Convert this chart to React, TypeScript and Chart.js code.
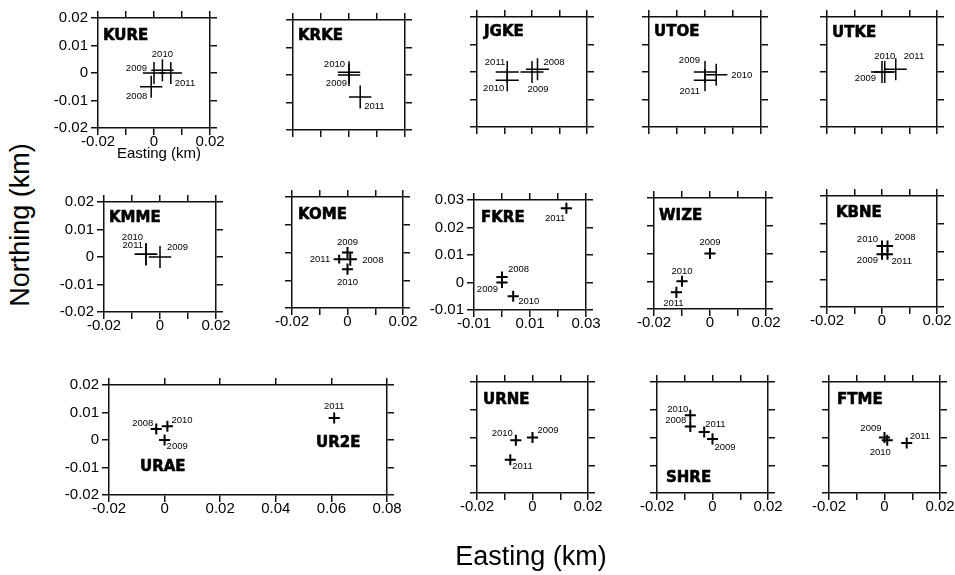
import React, { useEffect, useRef } from "react";
import { Chart, registerables } from "chart.js";

Chart.register(...registerables);

// ================= DATA (km) =================
const KURE_YEARS = ["2008", "2009", "2010", "2011"];
const KURE_EAST = [-0.001, 0.0, 0.003, 0.006];
const KURE_NORTH = [-0.005, 0.0, 0.001, 0.0];
const KURE_SIG_E = [0.004, 0.004, 0.004, 0.004];
const KURE_SIG_N = [0.004, 0.004, 0.004, 0.004];

const KRKE_YEARS = ["2009", "2010", "2011"];
const KRKE_EAST = [0.0, 0.0, 0.004];
const KRKE_NORTH = [0.0, 0.001, -0.008];
const KRKE_SIG_E = [0.004, 0.004, 0.004];
const KRKE_SIG_N = [0.004, 0.004, 0.0042];

const JGKE_YEARS = ["2008", "2009", "2010", "2011"];
const JGKE_EAST = [0.002, 0.0, -0.009, -0.009];
const JGKE_NORTH = [0.001, 0.0, -0.003, 0.0];
const JGKE_SIG_E = [0.0042, 0.0042, 0.0042, 0.0042];
const JGKE_SIG_N = [0.004, 0.004, 0.004, 0.004];

const UTOE_YEARS = ["2009", "2010", "2011"];
const UTOE_EAST = [0.0, 0.004, 0.0];
const UTOE_NORTH = [0.0, -0.001, -0.003];
const UTOE_SIG_E = [0.004, 0.004, 0.004];
const UTOE_SIG_N = [0.004, 0.004, 0.004];

const UTKE_YEARS = ["2009", "2010", "2011"];
const UTKE_EAST = [0.0, 0.001, 0.005];
const UTKE_NORTH = [0.0, 0.0, 0.001];
const UTKE_SIG_E = [0.004, 0.004, 0.004];
const UTKE_SIG_N = [0.004, 0.004, 0.004];

const KMME_YEARS = ["2009", "2010", "2011"];
const KMME_EAST = [0.0, -0.005, -0.005];
const KMME_NORTH = [0.0, 0.001, 0.001];
const KMME_SIG_E = [0.004, 0.004, 0.004];
const KMME_SIG_N = [0.004, 0.004, 0.004];

const KOME_YEARS = ["2008", "2009", "2010", "2011"];
const KOME_EAST = [0.001, 0.0, 0.0, -0.003];
const KOME_NORTH = [-0.0024, 0.0, -0.006, -0.0024];
const KOME_SIG_E = [0.0024, 0.002, 0.002, 0.002];
const KOME_SIG_N = [0.0024, 0.002, 0.002, 0.0016];

const FKRE_YEARS = ["2008", "2009", "2010", "2011"];
const FKRE_EAST = [0.0, 0.0, 0.004, 0.023];
const FKRE_NORTH = [0.002, 0.0, -0.005, 0.027];
const FKRE_SIG_E = [0.002, 0.002, 0.002, 0.002];
const FKRE_SIG_N = [0.002, 0.002, 0.002, 0.002];

const WIZE_YEARS = ["2009", "2010", "2011"];
const WIZE_EAST = [0.0, -0.01, -0.012];
const WIZE_NORTH = [0.0, -0.01, -0.014];
const WIZE_SIG_E = [0.002, 0.002, 0.002];
const WIZE_SIG_N = [0.002, 0.002, 0.002];

const KBNE_YEARS = ["2008", "2009", "2010", "2011"];
const KBNE_EAST = [0.002, 0.0, 0.0, 0.002];
const KBNE_NORTH = [0.002, -0.001, 0.002, -0.001];
const KBNE_SIG_E = [0.002, 0.002, 0.002, 0.002];
const KBNE_SIG_N = [0.002, 0.002, 0.002, 0.002];

const URAE_YEARS = ["2008", "2009", "2010"];
const URAE_EAST = [-0.003, 0.0, 0.001];
const URAE_NORTH = [0.004, 0.0, 0.005];
const URAE_SIG_E = [0.002, 0.002, 0.002];
const URAE_SIG_N = [0.002, 0.002, 0.002];

const UR2E_YEARS = ["2011"];
const UR2E_EAST = [0.061];
const UR2E_NORTH = [0.008];
const UR2E_SIG_E = [0.002];
const UR2E_SIG_N = [0.002];

const URNE_YEARS = ["2009", "2010", "2011"];
const URNE_EAST = [0.0, -0.006, -0.008];
const URNE_NORTH = [0.0, -0.001, -0.008];
const URNE_SIG_E = [0.002, 0.002, 0.002];
const URNE_SIG_N = [0.002, 0.002, 0.002];

const SHRE_YEARS = ["2008", "2009", "2010", "2011"];
const SHRE_EAST = [-0.008, 0.0, -0.008, -0.003];
const SHRE_NORTH = [0.004, -0.0005, 0.008, 0.002];
const SHRE_SIG_E = [0.002, 0.002, 0.002, 0.002];
const SHRE_SIG_N = [0.002, 0.002, 0.002, 0.002];

const FTME_YEARS = ["2009", "2010", "2011"];
const FTME_EAST = [0.0, 0.001, 0.008];
const FTME_NORTH = [0.0, -0.001, -0.002];
const FTME_SIG_E = [0.002, 0.002, 0.002];
const FTME_SIG_N = [0.002, 0.002, 0.002];

// ================= TICKS =================
const STD_TICKS = [-0.02, -0.01, 0, 0.01, 0.02];
const STD_X_LABELS = ["-0.02", "", "0", "", "0.02"];
const STD_Y_LABELS = ["-0.02", "-0.01", "0", "0.01", "0.02"];
const FKRE_TICKS = [-0.01, 0, 0.01, 0.02, 0.03];
const FKRE_X_LABELS = ["-0.01", "", "0.01", "", "0.03"];
const FKRE_Y_LABELS = ["-0.01", "0", "0.01", "0.02", "0.03"];
const URAE_X_TICKS = [-0.02, 0, 0.02, 0.04, 0.06, 0.08];
const URAE_X_LABELS = ["-0.02", "0", "0.02", "0.04", "0.06", "0.08"];

// ================= LAYOUT / STYLE =================
type Align = "left" | "right" | "center";
type LabelAt = [number, number, Align];
type Series = {
  years: string[];
  east: number[];
  north: number[];
  sigE: number[];
  sigN: number[];
  labelAt: LabelAt[];
};
type NameSpec = { text: string; dx: number; dy: number; from: "top" | "bottom" };
type PanelSpec = {
  id: string;
  area: [number, number, number, number];
  xRange: [number, number];
  yRange: [number, number];
  xTicks: number[];
  xLabels: string[] | null;
  yTicks: number[];
  yLabels: string[] | null;
  series: Series[];
  names: NameSpec[];
  lw: number;
};

const PAD_L = 62;
const PAD_R = 26;
const PAD_T = 12;
const PAD_B = 34;
const INK = "#111";
const FONT = '"Liberation Sans", Arial, sans-serif';
const NAME_FONT = 'bold 15px "DejaVu Sans", "Liberation Sans", sans-serif';
const YEAR_FONT = '9.5px "Liberation Sans", Arial, sans-serif';

const S = (
  years: string[], east: number[], north: number[], sigE: number[], sigN: number[], labelAt: LabelAt[]
): Series => ({ years, east, north, sigE, sigN, labelAt });

const PANELS: PanelSpec[] = [
  {
    id: "KURE", area: [98, 18, 210, 128], xRange: [-0.02, 0.02], yRange: [-0.02, 0.02],
    xTicks: STD_TICKS, xLabels: STD_X_LABELS, yTicks: STD_TICKS, yLabels: STD_Y_LABELS,
    series: [S(KURE_YEARS, KURE_EAST, KURE_NORTH, KURE_SIG_E, KURE_SIG_N,
      [[-4, 10, "right"], [-7, -5, "right"], [0, -16, "center"], [4, 10, "left"]])],
    names: [{ text: "KURE", dx: 5, dy: 18, from: "top" }], lw: 1.5,
  },
  {
    id: "KRKE", area: [293, 20, 405, 130], xRange: [-0.02, 0.02], yRange: [-0.02, 0.02],
    xTicks: STD_TICKS, xLabels: null, yTicks: STD_TICKS, yLabels: null,
    series: [S(KRKE_YEARS, KRKE_EAST, KRKE_NORTH, KRKE_SIG_E, KRKE_SIG_N,
      [[-2, 8, "right"], [-4, -8, "right"], [4, 9, "left"]])],
    names: [{ text: "KRKE", dx: 5, dy: 16, from: "top" }], lw: 1.5,
  },
  {
    id: "JGKE", area: [477, 17, 587, 127], xRange: [-0.02, 0.02], yRange: [-0.02, 0.02],
    xTicks: STD_TICKS, xLabels: null, yTicks: STD_TICKS, yLabels: null,
    series: [S(JGKE_YEARS, JGKE_EAST, JGKE_NORTH, JGKE_SIG_E, JGKE_SIG_N,
      [[6, -7, "left"], [6, 17, "center"], [-3, 8, "right"], [-2, -10, "right"]])],
    names: [{ text: "JGKE", dx: 7, dy: 15.5, from: "top" }], lw: 1.5,
  },
  {
    id: "UTOE", area: [649, 17, 761, 127], xRange: [-0.02, 0.02], yRange: [-0.02, 0.02],
    xTicks: STD_TICKS, xLabels: null, yTicks: STD_TICKS, yLabels: null,
    series: [S(UTOE_YEARS, UTOE_EAST, UTOE_NORTH, UTOE_SIG_E, UTOE_SIG_N,
      [[-5, -12, "right"], [15, 1, "left"], [-5, 11, "right"]])],
    names: [{ text: "UTOE", dx: 5, dy: 15.5, from: "top" }], lw: 1.5,
  },
  {
    id: "UTKE", area: [827, 17, 937, 127], xRange: [-0.02, 0.02], yRange: [-0.02, 0.02],
    xTicks: STD_TICKS, xLabels: null, yTicks: STD_TICKS, yLabels: null,
    series: [S(UTKE_YEARS, UTKE_EAST, UTKE_NORTH, UTKE_SIG_E, UTKE_SIG_N,
      [[-6, 6, "right"], [0, -16, "center"], [8, -13, "left"]])],
    names: [{ text: "UTKE", dx: 5, dy: 16.5, from: "top" }], lw: 1.5,
  },
  {
    id: "KMME", area: [104, 202, 216, 312], xRange: [-0.02, 0.02], yRange: [-0.02, 0.02],
    xTicks: STD_TICKS, xLabels: STD_X_LABELS, yTicks: STD_TICKS, yLabels: STD_Y_LABELS,
    series: [S(KMME_YEARS, KMME_EAST, KMME_NORTH, KMME_SIG_E, KMME_SIG_N,
      [[7, -10, "left"], [-3, -17, "right"], [-3, -9, "right"]])],
    names: [{ text: "KMME", dx: 5, dy: 16.5, from: "top" }], lw: 1.5,
  },
  {
    id: "KOME", area: [292, 197, 403, 308], xRange: [-0.02, 0.02], yRange: [-0.02, 0.02],
    xTicks: STD_TICKS, xLabels: STD_X_LABELS, yTicks: STD_TICKS, yLabels: null,
    series: [S(KOME_YEARS, KOME_EAST, KOME_NORTH, KOME_SIG_E, KOME_SIG_N,
      [[12, 1, "left"], [0, -10, "center"], [0, 13, "center"], [-9, 0, "right"]])],
    names: [{ text: "KOME", dx: 6, dy: 18, from: "top" }], lw: 2,
  },
  {
    id: "FKRE", area: [474, 200, 586, 310], xRange: [-0.01, 0.03], yRange: [-0.01, 0.03],
    xTicks: FKRE_TICKS, xLabels: FKRE_X_LABELS, yTicks: FKRE_TICKS, yLabels: FKRE_Y_LABELS,
    series: [S(FKRE_YEARS, FKRE_EAST, FKRE_NORTH, FKRE_SIG_E, FKRE_SIG_N,
      [[6, -8, "left"], [-4, 7, "right"], [5, 5, "left"], [-1, 10, "right"]])],
    names: [{ text: "FKRE", dx: 7, dy: 18, from: "top" }], lw: 2,
  },
  {
    id: "WIZE", area: [654, 198, 766, 309], xRange: [-0.02, 0.02], yRange: [-0.02, 0.02],
    xTicks: STD_TICKS, xLabels: STD_X_LABELS, yTicks: STD_TICKS, yLabels: null,
    series: [S(WIZE_YEARS, WIZE_EAST, WIZE_NORTH, WIZE_SIG_E, WIZE_SIG_N,
      [[0, -11, "center"], [0, -10, "center"], [-3, 11, "center"]])],
    names: [{ text: "WIZE", dx: 5, dy: 18, from: "top" }], lw: 2,
  },
  {
    id: "KBNE", area: [827, 196, 937, 307], xRange: [-0.02, 0.02], yRange: [-0.02, 0.02],
    xTicks: STD_TICKS, xLabels: STD_X_LABELS, yTicks: STD_TICKS, yLabels: null,
    series: [S(KBNE_YEARS, KBNE_EAST, KBNE_NORTH, KBNE_SIG_E, KBNE_SIG_N,
      [[7, -9, "left"], [-4, 6, "right"], [-4, -7, "right"], [4, 7, "left"]])],
    names: [{ text: "KBNE", dx: 9, dy: 17, from: "top" }], lw: 2,
  },
  {
    id: "URAE", area: [109, 385, 387, 495], xRange: [-0.02, 0.08], yRange: [-0.02, 0.02],
    xTicks: URAE_X_TICKS, xLabels: URAE_X_LABELS, yTicks: STD_TICKS, yLabels: STD_Y_LABELS,
    series: [
      S(URAE_YEARS, URAE_EAST, URAE_NORTH, URAE_SIG_E, URAE_SIG_N,
        [[-3, -6, "right"], [2, 6, "left"], [4, -6, "left"]]),
      S(UR2E_YEARS, UR2E_EAST, UR2E_NORTH, UR2E_SIG_E, UR2E_SIG_N, [[0, -12, "center"]]),
    ],
    names: [
      { text: "URAE", dx: 31, dy: -28, from: "bottom" },
      { text: "UR2E", dx: 207, dy: -52, from: "bottom" },
    ], lw: 2,
  },
  {
    id: "URNE", area: [477, 382, 588, 493], xRange: [-0.02, 0.02], yRange: [-0.02, 0.02],
    xTicks: STD_TICKS, xLabels: STD_X_LABELS, yTicks: STD_TICKS, yLabels: null,
    series: [S(URNE_YEARS, URNE_EAST, URNE_NORTH, URNE_SIG_E, URNE_SIG_N,
      [[5, -7, "left"], [-3, -7, "right"], [2, 7, "left"]])],
    names: [{ text: "URNE", dx: 6, dy: 18, from: "top" }], lw: 2,
  },
  {
    id: "SHRE", area: [657, 382, 768, 493], xRange: [-0.02, 0.02], yRange: [-0.02, 0.02],
    xTicks: STD_TICKS, xLabels: STD_X_LABELS, yTicks: STD_TICKS, yLabels: null,
    series: [S(SHRE_YEARS, SHRE_EAST, SHRE_NORTH, SHRE_SIG_E, SHRE_SIG_N,
      [[-4, -6, "right"], [2, 8, "left"], [-2, -6, "right"], [1, -8, "left"]])],
    names: [{ text: "SHRE", dx: 9, dy: -15, from: "bottom" }], lw: 2,
  },
  {
    id: "FTME", area: [829, 382, 940, 493], xRange: [-0.02, 0.02], yRange: [-0.02, 0.02],
    xTicks: STD_TICKS, xLabels: STD_X_LABELS, yTicks: STD_TICKS, yLabels: null,
    series: [S(FTME_YEARS, FTME_EAST, FTME_NORTH, FTME_SIG_E, FTME_SIG_N,
      [[-3, -9, "right"], [-7, 12, "center"], [3, -7, "left"]])],
    names: [{ text: "FTME", dx: 8, dy: 18, from: "top" }], lw: 2,
  },
];

function axisCfg(
  dir: "x" | "y",
  pos: "left" | "right" | "top" | "bottom",
  range: [number, number],
  ticks: number[],
  labels: string[] | null,
  showLabels: boolean
): any {
  const pad = { left: PAD_L, right: PAD_R, top: PAD_T, bottom: PAD_B }[pos];
  return {
    type: "linear",
    axis: dir,
    position: pos,
    min: range[0],
    max: range[1],
    afterBuildTicks: (s: any) => {
      s.ticks = ticks.map((v) => ({ value: v }));
    },
    afterFit: (s: any) => {
      if (dir === "x") s.height = pad;
      else s.width = pad;
      s.paddingLeft = 0;
      s.paddingRight = 0;
      s.paddingTop = 0;
      s.paddingBottom = 0;
    },
    grid: {
      display: true,
      drawOnChartArea: false,
      drawTicks: true,
      tickLength: 7,
      tickColor: INK,
      tickWidth: 1.5,
      color: INK,
      lineWidth: 1.5,
    },
    border: { display: true, color: INK, width: 1.5 },
    ticks: {
      display: showLabels && !!labels,
      autoSkip: false,
      maxRotation: 0,
      minRotation: 0,
      padding: dir === "x" ? -2 : 3,
      color: "#000",
      font: { family: FONT, size: 15 },
      callback: (v: number) => {
        const i = ticks.findIndex((t) => Math.abs(t - v) < 1e-9);
        return labels && i >= 0 ? labels[i] : "";
      },
    },
  };
}

function buildConfig(spec: PanelSpec): any {
  const overlay = {
    id: "gpsCrosses",
    afterDatasetsDraw(chart: any) {
      const ctx = chart.ctx as CanvasRenderingContext2D;
      const xs = chart.scales.x;
      const ys = chart.scales.y;
      ctx.save();
      ctx.strokeStyle = "#000";
      ctx.fillStyle = "#000";
      ctx.lineWidth = spec.lw;
      spec.series.forEach((s, di) => {
        const meta = chart.getDatasetMeta(di);
        s.east.forEach((e, j) => {
          const pt = meta.data[j];
          const px = pt.x;
          const py = pt.y;
          const x1 = xs.getPixelForValue(e - s.sigE[j]);
          const x2 = xs.getPixelForValue(e + s.sigE[j]);
          const y1 = ys.getPixelForValue(s.north[j] - s.sigN[j]);
          const y2 = ys.getPixelForValue(s.north[j] + s.sigN[j]);
          ctx.beginPath();
          ctx.moveTo(x1, py);
          ctx.lineTo(x2, py);
          ctx.moveTo(px, y1);
          ctx.lineTo(px, y2);
          ctx.stroke();
        });
        ctx.font = YEAR_FONT;
        ctx.textBaseline = "middle";
        s.years.forEach((yr, j) => {
          const pt = meta.data[j];
          const [dx, dy, al] = s.labelAt[j];
          ctx.textAlign = al;
          ctx.fillText(yr, pt.x + dx, pt.y + dy);
        });
      });
      const ca = chart.chartArea;
      ctx.font = NAME_FONT;
      ctx.textAlign = "left";
      ctx.textBaseline = "middle";
      ctx.lineWidth = 0.6;
      ctx.lineJoin = "round";
      spec.names.forEach((n) => {
        const y = n.from === "top" ? ca.top + n.dy : ca.bottom + n.dy;
        ctx.fillText(n.text, ca.left + n.dx, y);
        ctx.strokeText(n.text, ca.left + n.dx, y);
      });
      ctx.restore();
    },
  };

  return {
    type: "scatter",
    data: {
      datasets: spec.series.map((s) => ({
        data: s.east.map((e, i) => ({ x: e, y: s.north[i] })),
        pointRadius: 0,
        pointHoverRadius: 0,
        showLine: false,
        xAxisID: "x",
        yAxisID: "y",
      })),
    },
    options: {
      animation: false,
      responsive: false,
      devicePixelRatio: 1,
      events: [],
      layout: { padding: 0 },
      plugins: { legend: { display: false }, tooltip: { enabled: false }, title: { display: false } },
      scales: {
        x: axisCfg("x", "bottom", spec.xRange, spec.xTicks, spec.xLabels, true),
        y: axisCfg("y", "left", spec.yRange, spec.yTicks, spec.yLabels, true),
        x2: axisCfg("x", "top", spec.xRange, spec.xTicks, null, false),
        y2: axisCfg("y", "right", spec.yRange, spec.yTicks, null, false),
      },
    },
    plugins: [overlay],
  };
}

function Panel({ spec }: { spec: PanelSpec }) {
  const ref = useRef<HTMLCanvasElement | null>(null);
  useEffect(() => {
    if (!ref.current) return;
    const chart = new Chart(ref.current, buildConfig(spec));
    return () => chart.destroy();
  }, [spec]);
  const [l, t, r, b] = spec.area;
  const w = r - l + PAD_L + PAD_R;
  const h = b - t + PAD_T + PAD_B;
  return (
    <canvas
      ref={ref}
      width={w}
      height={h}
      style={{ position: "absolute", left: l - PAD_L, top: t - PAD_T, width: w, height: h }}
    />
  );
}

export default function App() {
  return (
    <div
      style={{
        position: "absolute",
        left: 0,
        top: 0,
        width: 955,
        height: 575,
        background: "#fff",
        overflow: "hidden",
        fontFamily: FONT,
        color: "#000",
      }}
    >
      {PANELS.map((p) => (
        <Panel key={p.id} spec={p} />
      ))}
      <div
        style={{
          position: "absolute",
          left: 159,
          top: 152,
          transform: "translate(-50%, -50%)",
          fontSize: 15,
          whiteSpace: "nowrap",
          lineHeight: 1,
        }}
      >
        Easting (km)
      </div>
      <div
        style={{
          position: "absolute",
          left: 20,
          top: 225,
          transform: "translate(-50%, -50%) rotate(-90deg)",
          fontSize: 27,
          whiteSpace: "nowrap",
          lineHeight: 1,
        }}
      >
        Northing (km)
      </div>
      <div
        style={{
          position: "absolute",
          left: 531,
          top: 556,
          transform: "translate(-50%, -50%)",
          fontSize: 27,
          whiteSpace: "nowrap",
          lineHeight: 1,
        }}
      >
        Easting (km)
      </div>
    </div>
  );
}
